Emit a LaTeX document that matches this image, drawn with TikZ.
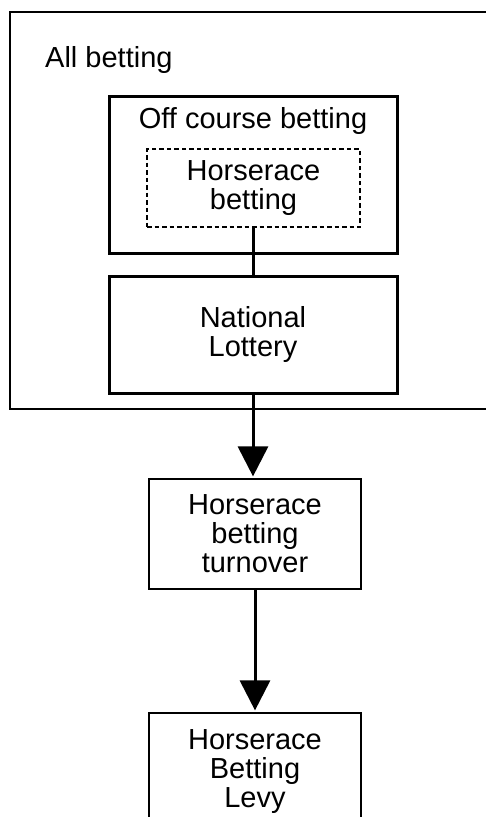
\documentclass[tikz,border=0pt]{standalone}
\usepackage{fontspec}
\setmainfont{Liberation Sans}
\usetikzlibrary{arrows.meta}
\begin{document}
\begin{tikzpicture}[x=1pt,y=-1pt,
  txt/.style={font=\fontsize{29}{29}\selectfont, align=center, inner sep=0pt},
  thinbox/.style={draw, line width=1.2pt, txt},
  thickbox/.style={draw, line width=3pt, txt},
  dashbox/.style={draw, line width=2.5pt, dash pattern=on 4.5pt off 3pt, txt},
  link/.style={line width=3pt},
  arrowline/.style={line width=3pt, -{Triangle[width=30pt,length=30pt]}, shorten >=2pt}
]
\useasboundingbox (0,0) rectangle (486,817);
% outer container (extends past right edge)
\node[thinbox, minimum width=490pt, minimum height=397pt] (outer) at (255,210.5) {};
\node[txt, anchor=base west] (alllbl) at (45,67) {All betting};
% off course betting
\node[thickbox, minimum width=288pt, minimum height=157pt] (offc) at (253,174.5) {};
\node[txt, anchor=base] (offlbl) at (253,128) {Off course betting};
\node[dashbox, minimum width=213pt, minimum height=78pt] (hb) at (253.5,188) {Horserace\\betting};
% national lottery
\node[thickbox, minimum width=288pt, minimum height=117pt] (nl) at (253,334.5) {National\\Lottery};
% turnover
\node[thinbox, minimum width=212pt, minimum height=110pt] (turn) at (255,534) {Horserace\\betting\\turnover};
% levy (cut at bottom)
\node[thinbox, minimum width=212pt, minimum height=117pt] (levy) at (255,771.5) {Horserace\\Betting\\Levy};
% connectors
\draw[link] (hb.south) -- (hb.south |- nl.north);
\draw[arrowline] (nl.south) -- (nl.south |- turn.north);
\draw[arrowline] (turn.south) -- (levy.north);
\end{tikzpicture}
\end{document}
